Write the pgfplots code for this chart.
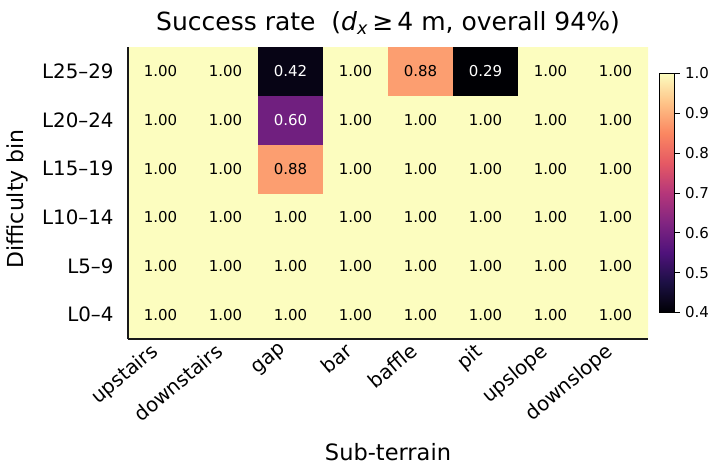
\documentclass[border=0pt]{standalone}
\usepackage{pgfplots}
\pgfplotsset{compat=1.18}
\usepackage{pgfplotstable}
\usepackage{fontspec}
\setmainfont{DejaVu Sans}
\usetikzlibrary{calc}
\pgfplotsset{/pgf/number format/assume math mode=true}

\pgfplotstableread{
x y v
0 0 1.00
1 0 1.00
2 0 1.00
3 0 1.00
4 0 1.00
5 0 1.00
6 0 1.00
7 0 1.00
0 1 1.00
1 1 1.00
2 1 1.00
3 1 1.00
4 1 1.00
5 1 1.00
6 1 1.00
7 1 1.00
0 2 1.00
1 2 1.00
2 2 1.00
3 2 1.00
4 2 1.00
5 2 1.00
6 2 1.00
7 2 1.00
0 3 1.00
1 3 1.00
2 3 0.88
3 3 1.00
4 3 1.00
5 3 1.00
6 3 1.00
7 3 1.00
0 4 1.00
1 4 1.00
2 4 0.60
3 4 1.00
4 4 1.00
5 4 1.00
6 4 1.00
7 4 1.00
0 5 1.00
1 5 1.00
2 5 0.42
3 5 1.00
4 5 0.88
5 5 0.29
6 5 1.00
7 5 1.00
}\ratetable

\pgfplotsset{celltext/.style={only marks, mark=none,
  point meta=\thisrow{v},
  nodes near coords={\pgfmathprintnumber[fixed,fixed zerofill,precision=2]{\pgfplotspointmeta}},
  nodes near coords align=center,
  every node near coord/.append style={font=\fontsize{15}{18}\selectfont, anchor=center, text=#1},
}}

\begin{document}
\begin{tikzpicture}
\path (-128pt,-135pt) rectangle (594pt,339pt);
\begin{axis}[
  at={(0,0)}, anchor=south west,
  scale only axis, width=520pt, height=292pt,
  xmin=-0.5, xmax=7.5, ymin=-0.5, ymax=5.5,
  axis on top,
  axis x line*=bottom, axis y line*=left,
  axis line style={line width=1.3pt, black!90},
  xtick={0,...,7}, ytick={0,...,5},
  xticklabels={upstairs,downstairs,gap,bar,baffle,pit,upslope,downslope},
  yticklabels={L0–4,L5–9,L10–14,L15–19,L20–24,L25–29},
  major tick length=0pt,
  ticklabel style={font=\fontsize{19.8}{23}\selectfont},
  xticklabel style={xshift=-11pt, yshift=0pt, rotate=40, anchor=north east, inner sep=2pt},
  yticklabel style={xshift=-11pt},
  colormap={magma}{rgb255=(0,0,4) rgb255=(28,16,68) rgb255=(79,18,123) rgb255=(129,37,129) rgb255=(181,54,122) rgb255=(229,89,100) rgb255=(251,135,97) rgb255=(254,194,135) rgb255=(252,253,191)},
  point meta min=0.4, point meta max=1.0,
  colorbar,
  colorbar style={
    at={($(parent axis.east)+(3pt,0)$)}, anchor=west,
    width=15pt, height=239pt,
    ytick={0.4,0.5,0.6,0.7,0.8,0.9,1.0},
    yticklabel style={xshift=2pt, font=\fontsize{15}{18}\selectfont, /pgf/number format/.cd, fixed, fixed zerofill, precision=1},
    major tick length=5pt, tick align=outside, ytick pos=right,
    axis line style={line width=0.8pt, black},
    major tick style={line width=0.8pt, black},
  },
  title={Success rate\ \ (\textit{d}\textsubscript{\textit{x}}\,≥\,4 m, overall 94\%)},
  title style={font=\fontsize{25}{30}\selectfont, at={(axis description cs:0.5,1)}, anchor=center, yshift=18pt},
  xlabel={Sub-terrain},
  xlabel style={font=\fontsize{22.5}{26}\selectfont, at={(axis description cs:0.5,-0.387)}, anchor=center},
  ylabel={Difficulty bin},
  ylabel style={font=\fontsize{22}{26}\selectfont, at={(axis description cs:-0.2125,0.48)}, anchor=center},
]
\addplot[matrix plot*, mesh/cols=8, mesh/rows=6, point meta=explicit] table[x=x,y=y,meta=v]{\ratetable};
\addplot[celltext=white, restrict expr to domain={\thisrow{v}}{0:0.7}] table[x=x,y=y]{\ratetable};
\addplot[celltext=black, restrict expr to domain={\thisrow{v}}{0.7:2}] table[x=x,y=y]{\ratetable};
\end{axis}
\end{tikzpicture}
\end{document}
